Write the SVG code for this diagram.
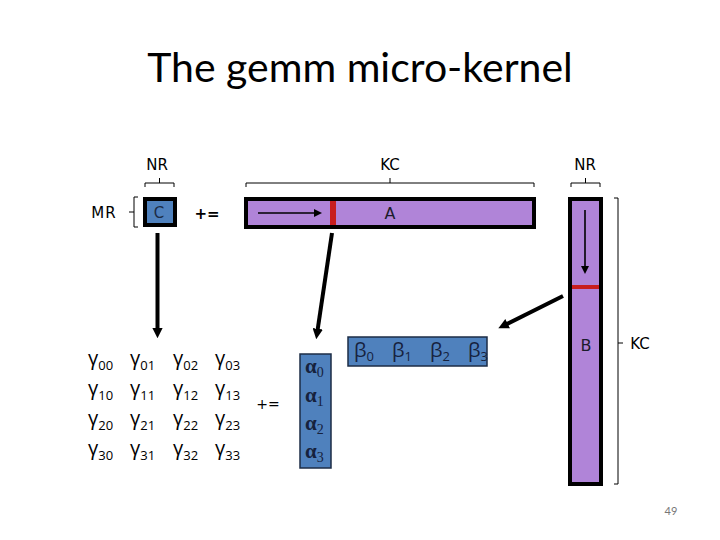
<svg xmlns="http://www.w3.org/2000/svg" width="720" height="540" viewBox="0 0 720 540">
<style>
.title{font-family:Lato,"Open Sans",sans-serif;font-size:41px;fill:#000}
.lbl{font-family:"DejaVu Sans",Verdana,sans-serif;font-size:15px;fill:#000}
.g{font-family:"Open Sans","Liberation Sans",sans-serif;font-size:20px;fill:#000}
.sub{font-size:13px}
.gk{font-family:"Liberation Serif",serif;font-size:21px;font-weight:bold;fill:#16223d}
.gks{font-size:14px;font-weight:normal}
.bk{font-family:"Open Sans",sans-serif;font-size:20px;fill:#16223d}
.br{fill:none;stroke:#000;stroke-width:1}
.purple{fill:#b084d8;stroke:#000;stroke-width:4}
.blue{fill:#4f81bd;stroke:#1c2c46;stroke-width:1.5}
.red{fill:#c81e1e}
.arr{stroke:#000;stroke-width:4;fill:none}
.thin{stroke:#000;stroke-width:1.6;fill:none}
</style>
<defs>
<marker id="ah" viewBox="0 0 10 10" refX="5" refY="5" markerWidth="2.6" markerHeight="2.6" orient="auto"><path d="M0,0 L10,5 L0,10 z" fill="#000"/></marker>
<marker id="ah2" viewBox="0 0 10 10" refX="5" refY="5" markerWidth="5" markerHeight="5" orient="auto"><path d="M0,0 L10,5 L0,10 z" fill="#000"/></marker>
</defs>
<rect width="720" height="540" fill="#fff"/>
<text class="title" x="360" y="82" text-anchor="middle">The gemm micro-kernel</text>

<g id="C">
<rect class="blue" x="145" y="199" width="30" height="26" style="stroke:#000;stroke-width:4"/>
<text x="159" y="218" text-anchor="middle" font-family="DejaVu Sans,sans-serif" font-size="15" fill="#1c2c46">C</text>
</g>
<g id="brackets">
<path class="br" d="M145,187 V183 H174 V187 M159.5,183 V178"/>
<text class="lbl" x="157" y="170" text-anchor="middle">NR</text>
<path class="br" d="M138,197 H134 V227 H138 M134,212 H129"/>
<text class="lbl" x="104" y="218" text-anchor="middle" letter-spacing="1">MR</text>
<path class="br" d="M246,187 V183 H534 V187 M390,183 V178"/>
<text class="lbl" x="390" y="170" text-anchor="middle">KC</text>
<path class="br" d="M571,187 V183 H600 V187 M585.5,183 V178"/>
<text class="lbl" x="585" y="170" text-anchor="middle">NR</text>
<path class="br" d="M614,198 H618 V484 H614 M618,343 H623"/>
<text class="lbl" x="640" y="349" text-anchor="middle">KC</text>
</g>
<text x="207" y="219" text-anchor="middle" font-family="DejaVu Sans,sans-serif" font-size="15" font-weight="bold">+=</text>

<g id="A">
<rect class="purple" x="246" y="199" width="288" height="28"/>
<rect class="red" x="330" y="201" width="6" height="24"/>
<text x="390" y="219" text-anchor="middle" font-family="DejaVu Sans,sans-serif" font-size="16" fill="#1c1c2c">A</text>
<line class="thin" x1="258" y1="213" x2="318" y2="213" marker-end="url(#ah2)"/>
</g>

<g id="B">
<rect class="purple" x="570" y="199" width="31" height="285"/>
<rect class="red" x="572" y="285" width="27" height="4"/>
<text x="586" y="351" text-anchor="middle" font-family="DejaVu Sans,sans-serif" font-size="16" fill="#1c1c2c">B</text>
<line class="thin" x1="585" y1="210" x2="585" y2="270" marker-end="url(#ah2)"/>
</g>

<g id="connectors">
<line class="arr" x1="157.5" y1="233" x2="157.5" y2="333" marker-end="url(#ah)"/>
<line class="arr" x1="332" y1="233" x2="317" y2="334" marker-end="url(#ah)"/>
<line class="arr" x1="563" y1="296" x2="503" y2="326" marker-end="url(#ah)"/>
</g>

<g id="gamma">
<text class="g" x="88" y="365">γ<tspan class="sub" dy="5">00</tspan></text>
<text class="g" x="130" y="365">γ<tspan class="sub" dy="5">01</tspan></text>
<text class="g" x="173" y="365">γ<tspan class="sub" dy="5">02</tspan></text>
<text class="g" x="215" y="365">γ<tspan class="sub" dy="5">03</tspan></text>
<text class="g" x="88" y="395">γ<tspan class="sub" dy="5">10</tspan></text>
<text class="g" x="130" y="395">γ<tspan class="sub" dy="5">11</tspan></text>
<text class="g" x="173" y="395">γ<tspan class="sub" dy="5">12</tspan></text>
<text class="g" x="215" y="395">γ<tspan class="sub" dy="5">13</tspan></text>
<text class="g" x="88" y="425">γ<tspan class="sub" dy="5">20</tspan></text>
<text class="g" x="130" y="425">γ<tspan class="sub" dy="5">21</tspan></text>
<text class="g" x="173" y="425">γ<tspan class="sub" dy="5">22</tspan></text>
<text class="g" x="215" y="425">γ<tspan class="sub" dy="5">23</tspan></text>
<text class="g" x="88" y="455">γ<tspan class="sub" dy="5">30</tspan></text>
<text class="g" x="130" y="455">γ<tspan class="sub" dy="5">31</tspan></text>
<text class="g" x="173" y="455">γ<tspan class="sub" dy="5">32</tspan></text>
<text class="g" x="215" y="455">γ<tspan class="sub" dy="5">33</tspan></text>
</g>
<text x="268" y="409" text-anchor="middle" font-family="DejaVu Sans,sans-serif" font-size="14">+=</text>

<g id="alpha">
<rect class="blue" x="300" y="354" width="31" height="114"/>
<text class="gk" x="305" y="373">α<tspan class="gks" dy="4">0</tspan></text>
<text class="gk" x="305" y="402">α<tspan class="gks" dy="4">1</tspan></text>
<text class="gk" x="305" y="430">α<tspan class="gks" dy="4">2</tspan></text>
<text class="gk" x="305" y="458">α<tspan class="gks" dy="4">3</tspan></text>
</g>

<g id="beta">
<rect class="blue" x="348" y="337" width="139" height="29"/>
<text class="bk" x="354" y="357">β<tspan class="sub" dy="4">0</tspan></text>
<text class="bk" x="392" y="357">β<tspan class="sub" dy="4">1</tspan></text>
<text class="bk" x="430" y="357">β<tspan class="sub" dy="4">2</tspan></text>
<text class="bk" x="468" y="357">β<tspan class="sub" dy="4">3</tspan></text>
</g>

<text x="671" y="515" text-anchor="middle" font-family="Lato,sans-serif" font-size="11" fill="#777">49</text>
</svg>
